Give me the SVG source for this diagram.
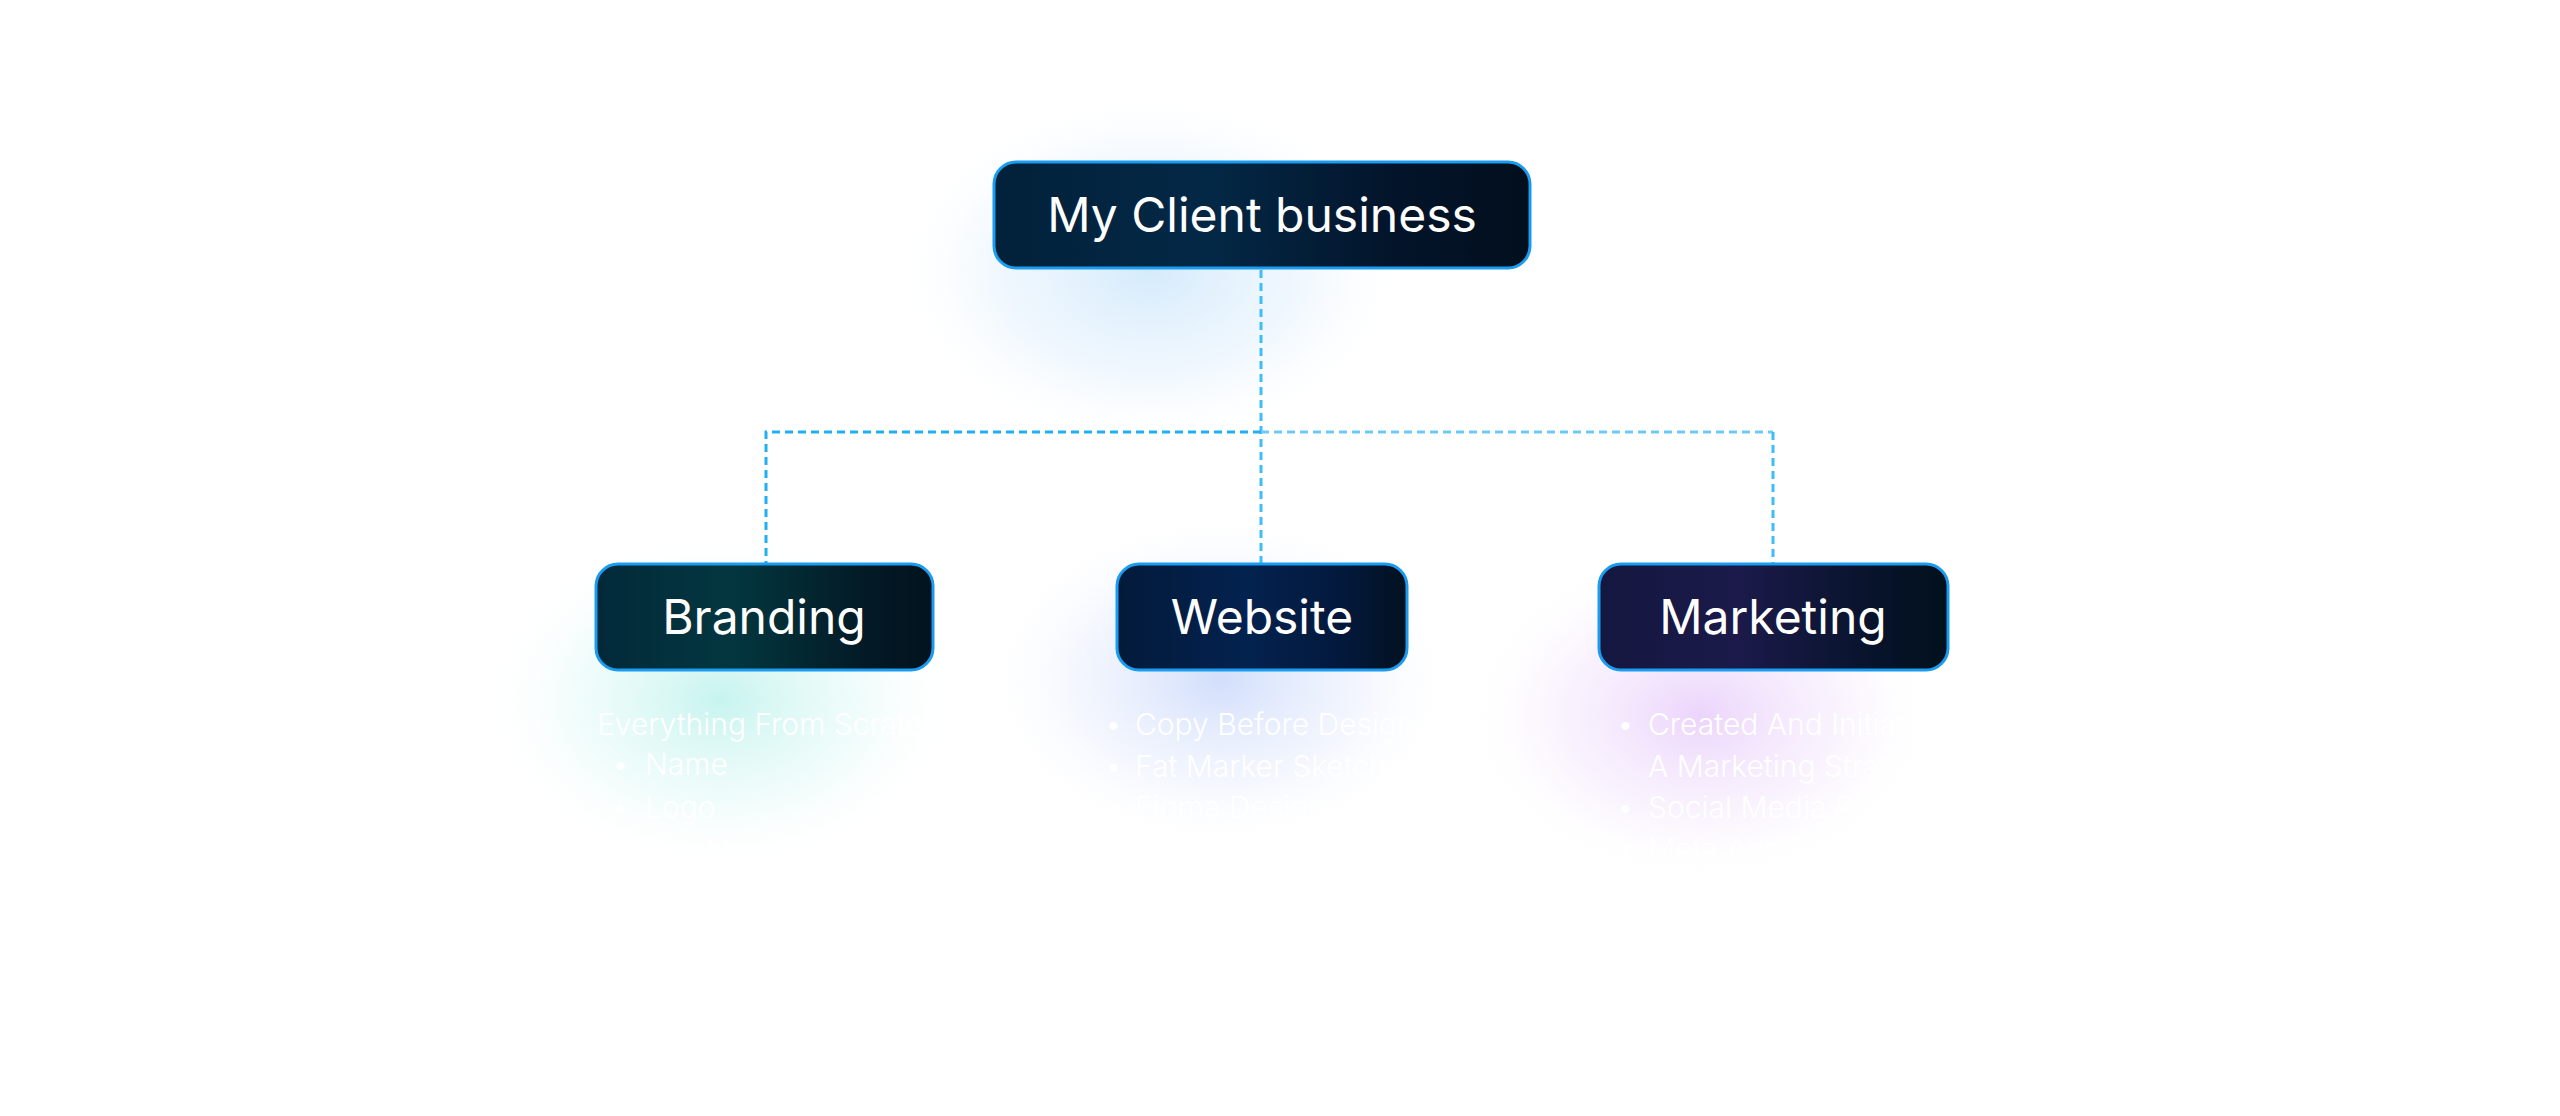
<svg xmlns="http://www.w3.org/2000/svg" width="2560" height="1116" viewBox="0 0 2560 1116">
<style>
.node rect.box{stroke:#1a9cf0;stroke-width:3}
.label{font-family:Inter,"Noto Sans","Liberation Sans",sans-serif;font-size:48px;font-weight:400;fill:#ffffff;text-anchor:middle}
.list{font-family:Inter,"Noto Sans","Liberation Sans",sans-serif;font-size:30px;font-weight:300;fill:#ffffff}
.conn{fill:none;stroke-width:3;stroke-dasharray:8 5}
</style>
<defs>
<radialGradient id="gRoot" cx="0.5" cy="0.5" r="0.5">
<stop offset="0" stop-color="#cde7fb" stop-opacity="0.85"/>
<stop offset="0.6" stop-color="#e3f1fd" stop-opacity="0.5"/>
<stop offset="1" stop-color="#ffffff" stop-opacity="0"/>
</radialGradient>
<radialGradient id="gBrand" cx="0.5" cy="0.5" r="0.5">
<stop offset="0" stop-color="#c4f3ee" stop-opacity="0.95"/>
<stop offset="0.6" stop-color="#e2faf7" stop-opacity="0.5"/>
<stop offset="1" stop-color="#ffffff" stop-opacity="0"/>
</radialGradient>
<radialGradient id="gWeb" cx="0.5" cy="0.5" r="0.5">
<stop offset="0" stop-color="#cfdcfb" stop-opacity="0.95"/>
<stop offset="0.6" stop-color="#e8eefd" stop-opacity="0.5"/>
<stop offset="1" stop-color="#ffffff" stop-opacity="0"/>
</radialGradient>
<radialGradient id="gMkt" cx="0.5" cy="0.5" r="0.5">
<stop offset="0" stop-color="#ead2fb" stop-opacity="0.95"/>
<stop offset="0.6" stop-color="#f5e9fd" stop-opacity="0.5"/>
<stop offset="1" stop-color="#ffffff" stop-opacity="0"/>
</radialGradient>
<linearGradient id="fRoot" x1="0" y1="0" x2="1" y2="0">
<stop offset="0" stop-color="#02213a"/>
<stop offset="0.4" stop-color="#032846"/>
<stop offset="0.75" stop-color="#03142a"/>
<stop offset="1" stop-color="#020f1d"/>
</linearGradient>
<linearGradient id="fBrand" x1="0" y1="0" x2="1" y2="0">
<stop offset="0" stop-color="#02293a"/>
<stop offset="0.4" stop-color="#03373f"/>
<stop offset="0.8" stop-color="#031a26"/>
<stop offset="1" stop-color="#02121e"/>
</linearGradient>
<linearGradient id="fWeb" x1="0" y1="0" x2="1" y2="0">
<stop offset="0" stop-color="#031a3a"/>
<stop offset="0.45" stop-color="#03224f"/>
<stop offset="0.8" stop-color="#03183a"/>
<stop offset="1" stop-color="#02111f"/>
</linearGradient>
<linearGradient id="fMkt" x1="0" y1="0" x2="1" y2="0">
<stop offset="0" stop-color="#14173f"/>
<stop offset="0.4" stop-color="#1b1a4a"/>
<stop offset="0.8" stop-color="#07132a"/>
<stop offset="1" stop-color="#02111d"/>
</linearGradient>
</defs>
<rect x="0" y="0" width="2560" height="1116" fill="#ffffff"/>
<g id="glows">
<ellipse cx="1150" cy="270" rx="260" ry="180" fill="url(#gRoot)"/>
<ellipse cx="720" cy="700" rx="240" ry="170" fill="url(#gBrand)"/>
<ellipse cx="1220" cy="680" rx="240" ry="170" fill="url(#gWeb)"/>
<ellipse cx="1700" cy="715" rx="240" ry="170" fill="url(#gMkt)"/>
</g>
<g id="connectors">
<path class="conn" stroke="#3fbdf6" d="M1261 270 V563"/>
<path class="conn" stroke="#1fb0f4" d="M1261 432 H766 V563"/>
<path class="conn" stroke="#6ccaf7" d="M1261 432 H1773"/>
<path class="conn" stroke="#3fbdf6" d="M1773 432 V563"/>
</g>
<g id="node-root" class="node">
<rect class="box" x="994" y="162" width="536" height="106" rx="22" fill="url(#fRoot)"/>
<text class="label" x="1262" y="232">My Client business</text>
</g>
<g id="node-branding" class="node">
<rect class="box" x="596" y="564" width="337" height="106" rx="22" fill="url(#fBrand)"/>
<text class="label" x="764" y="634">Branding</text>
<g class="list">
<text x="597" y="735">Everything From Scratch:</text>
<text x="612" y="775">•</text><text x="645" y="775">Name</text>
<text x="612" y="818">•</text><text x="645" y="818">Logo</text>
<text x="612" y="860">•</text><text x="645" y="860">Identity</text>
<text x="612" y="902">•</text><text x="645" y="902">Guidelines</text>
</g>
</g>
<g id="node-website" class="node">
<rect class="box" x="1117" y="564" width="290" height="106" rx="22" fill="url(#fWeb)"/>
<text class="label" x="1262" y="634">Website</text>
<g class="list">
<text x="1105" y="735">•</text><text x="1135" y="735">Copy Before Design</text>
<text x="1105" y="777">•</text><text x="1135" y="777">Fat Marker Sketches</text>
<text x="1105" y="818">•</text><text x="1135" y="818">Figma Design</text>
<text x="1105" y="860">•</text><text x="1135" y="860">Webflow</text>
<text x="1135" y="902">Development</text>
</g>
</g>
<g id="node-marketing" class="node">
<rect class="box" x="1599" y="564" width="349" height="106" rx="22" fill="url(#fMkt)"/>
<text class="label" x="1773" y="634">Marketing</text>
<g class="list">
<text x="1617" y="735">•</text><text x="1648" y="735">Created And Initiated</text>
<text x="1648" y="777">A Marketing Strategy</text>
<text x="1617" y="818">•</text><text x="1648" y="818">Social Media Posts</text>
<text x="1617" y="860">•</text><text x="1648" y="860">Meta Ads Campaigns</text>
</g>
</g>
</svg>
